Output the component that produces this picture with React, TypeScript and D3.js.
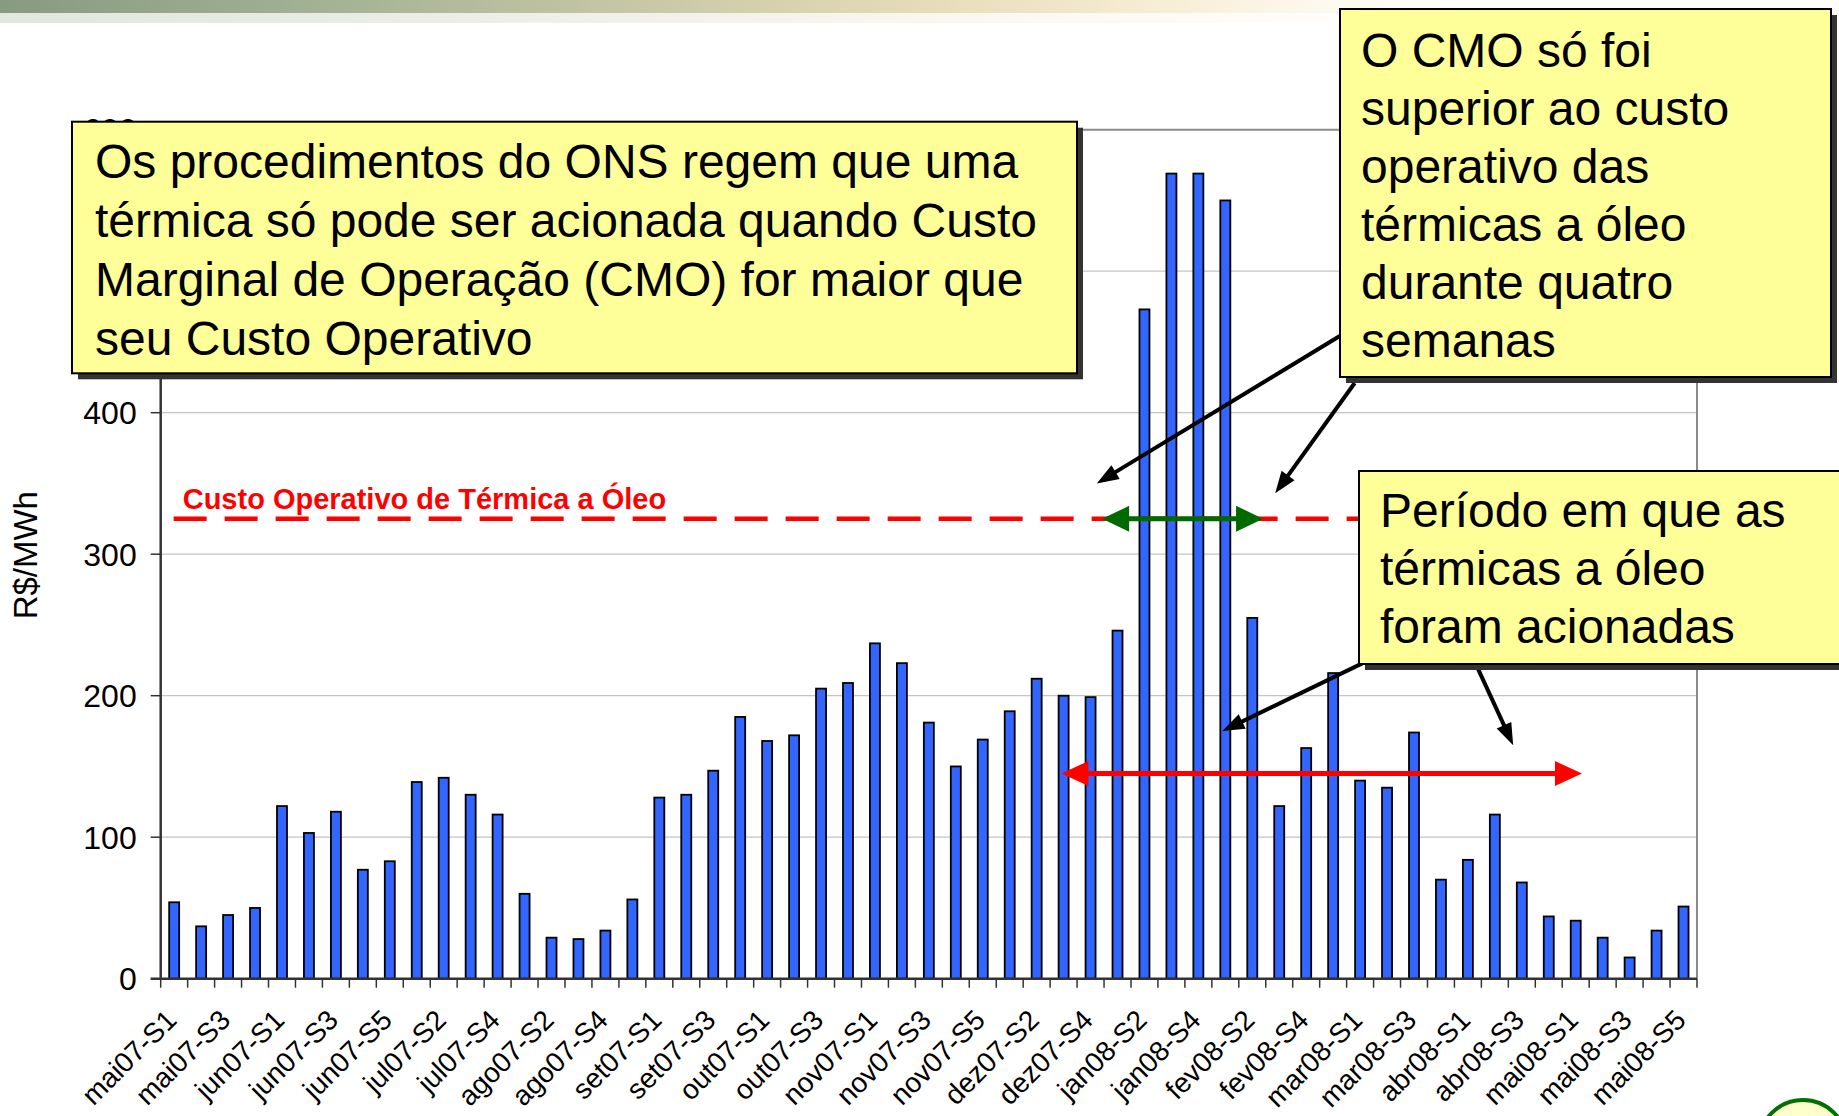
import React from 'react';
import * as d3 from 'd3';

// weekly CMO (R$/MWh), mai/07 .. mai/08
const weeks = [
  'mai07-S1', 'mai07-S2', 'mai07-S3', 'mai07-S4',
  'jun07-S1', 'jun07-S2', 'jun07-S3', 'jun07-S4', 'jun07-S5',
  'jul07-S1', 'jul07-S2', 'jul07-S3', 'jul07-S4',
  'ago07-S1', 'ago07-S2', 'ago07-S3', 'ago07-S4', 'ago07-S5',
  'set07-S1', 'set07-S2', 'set07-S3', 'set07-S4',
  'out07-S1', 'out07-S2', 'out07-S3', 'out07-S4',
  'nov07-S1', 'nov07-S2', 'nov07-S3', 'nov07-S4', 'nov07-S5',
  'dez07-S1', 'dez07-S2', 'dez07-S3', 'dez07-S4',
  'jan08-S1', 'jan08-S2', 'jan08-S3', 'jan08-S4',
  'fev08-S1', 'fev08-S2', 'fev08-S3', 'fev08-S4', 'fev08-S5',
  'mar08-S1', 'mar08-S2', 'mar08-S3', 'mar08-S4',
  'abr08-S1', 'abr08-S2', 'abr08-S3', 'abr08-S4',
  'mai08-S1', 'mai08-S2', 'mai08-S3', 'mai08-S4', 'mai08-S5',
];

const cmo = [
  54, 37, 45, 50,
  122, 103, 118, 77, 83,
  139, 142, 130, 116,
  60, 29, 28, 34, 56,
  128, 130, 147, 185,
  168, 172, 205, 209,
  237, 223, 181, 150, 169,
  189, 212, 200, 199,
  246, 473, 569, 569,
  550, 255, 122, 163, 216,
  140, 135, 174, 70,
  84, 116, 68, 44,
  41, 29, 15, 34, 51,
];

const yTicks = [0, 100, 200, 300, 400, 500, 600];
const oilCost = 325;

// annotation arrows in (week index, R$/MWh)
const greenSpan = [34.93, 40.9];
const redSpan = [33.42, 52.73];
const redLevel = 145;
const pointers = [
  { from: [43.9, 456], to: [34.73, 350] },
  { from: [44.3, 421], to: [41.35, 343] },
  { from: [44.6, 223], to: [39.39, 175] },
  { from: [48.85, 220], to: [50.18, 165] },
];

const boxText1 = [
  'Os procedimentos do ONS regem que uma',
  'térmica só pode ser acionada quando Custo',
  'Marginal de Operação (CMO) for maior que',
  'seu Custo Operativo',
];
const boxText2 = ['O CMO só foi', 'superior ao custo', 'operativo das', 'térmicas a óleo', 'durante quatro', 'semanas'];
const boxText3 = ['Período em que as', 'térmicas a óleo', 'foram acionadas'];

const W = 1839;
const H = 1116;
const plot = { left: 160.7, right: 1697, top: 129.7, bottom: 978.7 };
const FONT = '"Liberation Sans", Arial, Helvetica, sans-serif';

function head(x1: number, y1: number, x2: number, y2: number, len: number, half: number) {
  const a = Math.atan2(y2 - y1, x2 - x1);
  const bx = x2 - len * Math.cos(a);
  const by = y2 - len * Math.sin(a);
  const px = -Math.sin(a) * half;
  const py = Math.cos(a) * half;
  return `${x2},${y2} ${bx + px},${by + py} ${bx - px},${by - py}`;
}

function Box({ x, y, w, h, lines, tx, ty, lh }: any) {
  return (
    <g>
      <rect x={x + 6} y={y + 6} width={w} height={h} fill="#333" />
      <rect x={x} y={y} width={w} height={h} fill="#ffff99" stroke="#000" strokeWidth={2} />
      <text fontFamily={FONT} fontSize={48} fill="#000">
        {lines.map((l: string, i: number) => (
          <tspan key={i} x={tx} y={ty + i * lh}>{l}</tspan>
        ))}
      </text>
    </g>
  );
}

export default function App() {
  const x = d3.scaleBand().domain(weeks).range([plot.left, plot.right]);
  const xi = d3.scaleLinear().domain([0, weeks.length]).range([plot.left, plot.right]);
  const y = d3.scaleLinear().domain([0, 600]).range([plot.bottom, plot.top]);
  const bw = x.bandwidth();

  const gy = y(oilCost);
  const ry = y(redLevel);
  const g1 = xi(greenSpan[0]);
  const g2 = xi(greenSpan[1]);
  const r1 = xi(redSpan[0]);
  const r2 = xi(redSpan[1]);

  return (
    <svg width={W} height={H} style={{ position: 'absolute', left: 0, top: 0, background: '#fff' }}>
      <defs>
        <linearGradient id="band" x1="0" x2="1" y1="0" y2="0">
          <stop offset="0" stopColor="#879b80" />
          <stop offset="0.15" stopColor="#9fae92" />
          <stop offset="0.35" stopColor="#c8c8a6" />
          <stop offset="0.5" stopColor="#e4dcb8" />
          <stop offset="0.62" stopColor="#f5ecd2" />
          <stop offset="0.72" stopColor="#fdf9ee" />
          <stop offset="0.8" stopColor="#ffffff" />
        </linearGradient>
      </defs>
      <rect x={0} y={0} width={W} height={13} fill="url(#band)" />
      <rect x={0} y={13} width={W} height={10} fill="url(#band)" opacity={0.25} />

      {/* grid */}
      {yTicks.filter(t => t > 0 && t < 600).map(t => (
        <line key={t} x1={plot.left} x2={plot.right} y1={y(t)} y2={y(t)} stroke="#c4c4c4" strokeWidth={1.2} />
      ))}
      <line x1={plot.left} x2={plot.right} y1={y(600)} y2={y(600)} stroke="#8a8a8a" strokeWidth={2} />
      <line x1={plot.right} x2={plot.right} y1={y(600)} y2={plot.bottom} stroke="#8a8a8a" strokeWidth={2} />

      {/* bars */}
      {weeks.map((w, i) => (
        <rect key={w} x={(x(w) as number) + bw / 2 - 5} y={y(cmo[i])} width={10} height={y(0) - y(cmo[i])}
          fill="#3366ff" stroke="#000" strokeWidth={1.8} />
      ))}

      {/* axes */}
      <line x1={plot.left} x2={plot.left} y1={y(600)} y2={plot.bottom} stroke="#333" strokeWidth={2.5} />
      <line x1={plot.left - 10} x2={plot.right} y1={plot.bottom} y2={plot.bottom} stroke="#333" strokeWidth={2.5} />
      {yTicks.map(t => (
        <g key={t}>
          <line x1={plot.left - 10} x2={plot.left} y1={y(t)} y2={y(t)} stroke="#333" strokeWidth={1.5} />
          <text x={plot.left - 24} y={y(t)} dy="0.36em" textAnchor="end" fontFamily={FONT} fontSize={32}>{t}</text>
        </g>
      ))}
      {d3.range(weeks.length + 1).map(i => (
        <line key={i} x1={xi(i)} x2={xi(i)} y1={plot.bottom} y2={plot.bottom + 9} stroke="#333" strokeWidth={1.5} />
      ))}
      {weeks.map((w, i) => i % 2 === 0 && (
        <text key={w} transform={`translate(${(x(w) as number) + bw / 2 + 4},${plot.bottom + 43}) rotate(-45)`}
          textAnchor="end" fontFamily={FONT} fontSize={28}>{w}</text>
      ))}
      <text transform={`translate(37,${(plot.top + plot.bottom) / 2 + 1}) rotate(-90)`} textAnchor="middle"
        fontFamily={FONT} fontSize={33}>R$/MWh</text>

      {/* oil thermal operating cost */}
      <line x1={xi(0.48)} x2={plot.right} y1={gy} y2={gy} stroke="#ff0000" strokeWidth={4.5} strokeDasharray="33 18" />
      <text x={plot.left + 22} y={gy - 10} fontFamily={FONT} fontSize={29} fontWeight="bold" fill="#ff0000">
        Custo Operativo de Térmica a Óleo
      </text>

      {/* green span */}
      <line x1={g1 + 20} x2={g2 - 20} y1={gy} y2={gy} stroke="#006a00" strokeWidth={5} />
      <polygon points={head(g2, gy, g1, gy, 27, 13)} fill="#006a00" />
      <polygon points={head(g1, gy, g2, gy, 27, 13)} fill="#006a00" />

      {/* red span */}
      <line x1={r1 + 20} x2={r2 - 20} y1={ry} y2={ry} stroke="#ff0000" strokeWidth={5} />
      <polygon points={head(r2, ry, r1, ry, 27, 12.5)} fill="#ff0000" />
      <polygon points={head(r1, ry, r2, ry, 27, 12.5)} fill="#ff0000" />

      {/* pointers */}
      {pointers.map((p, i) => {
        const x1 = xi(p.from[0]);
        const y1 = y(p.from[1]);
        const x2 = xi(p.to[0]);
        const y2 = y(p.to[1]);
        const a = Math.atan2(y2 - y1, x2 - x1);
        return (
          <g key={i}>
            <line x1={x1} y1={y1} x2={x2 - 16 * Math.cos(a)} y2={y2 - 16 * Math.sin(a)} stroke="#000" strokeWidth={4} />
            <polygon points={head(x1, y1, x2, y2, 22, 8)} fill="#000" />
          </g>
        );
      })}

      <Box x={72} y={121.7} w={1005} h={251.6} lines={boxText1} tx={95} ty={177.7} lh={59} />
      <Box x={1340} y={9} w={491} h={368} lines={boxText2} tx={1361} ty={66.7} lh={58} />
      <Box x={1359} y={471} w={600} h={193} lines={boxText3} tx={1380} ty={527} lh={58} />

      <circle cx={1803} cy={1144} r={44} fill="#ffffcc" stroke="#007000" strokeWidth={4} />
    </svg>
  );
}
